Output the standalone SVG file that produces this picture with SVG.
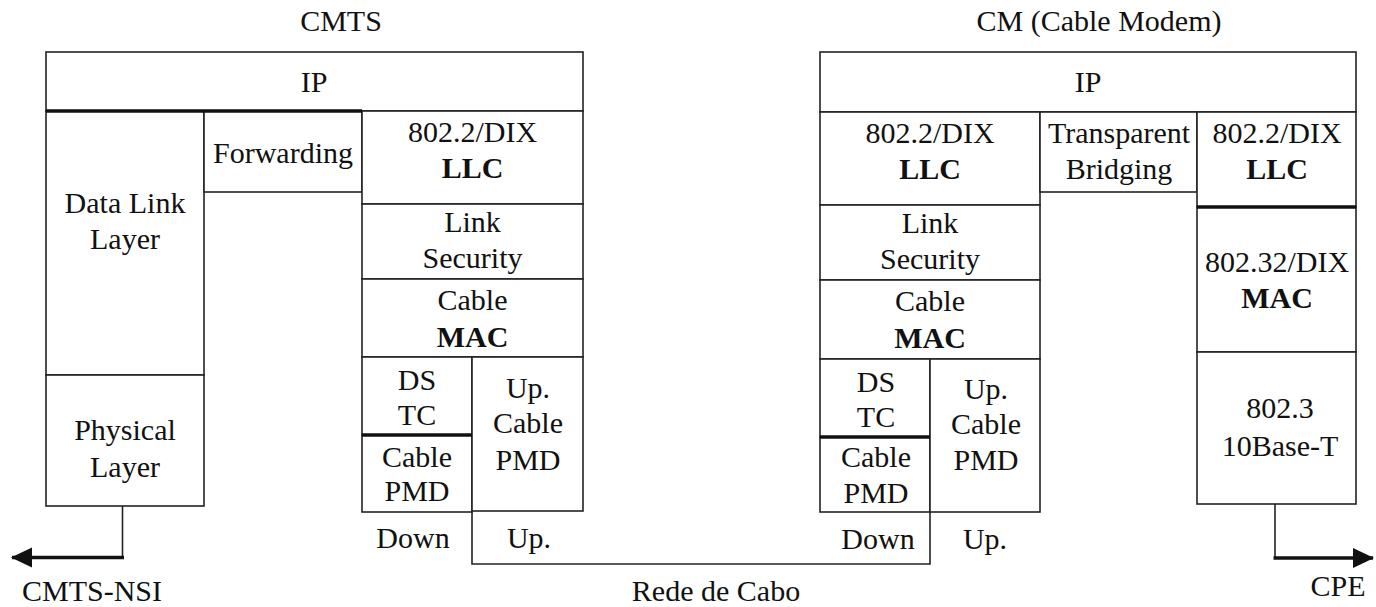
<svg xmlns="http://www.w3.org/2000/svg" width="1376" height="607" viewBox="0 0 1376 607">
<defs>
<style>
text{font-family:'Liberation Serif','Times New Roman',serif;font-size:30px;fill:#111;text-anchor:middle}
text.b{font-weight:bold}
rect{fill:#fff;stroke:#222;stroke-width:1.6}
.thick{stroke:#111;stroke-width:3.5;fill:none}
.ln{stroke:#222;stroke-width:1.6;fill:none}
</style>
<marker id="ah" markerWidth="22" markerHeight="22" refX="20" refY="10" orient="auto" markerUnits="userSpaceOnUse" viewBox="0 0 22 20">
<path d="M0,0 L21,10 L0,20 Z" fill="#111"/>
</marker>
</defs>
<rect x="0" y="0" width="1376" height="607" style="stroke:none"/>

<text x="341" y="31">CMTS</text>
<text x="1099" y="31">CM (Cable Modem)</text>

<g id="cmts-ip"><rect x="46" y="52" width="537" height="59"/><text x="314" y="92">IP</text></g>
<g id="cmts-dll"><rect x="46" y="111" width="158" height="264"/><text x="125" y="213">Data Link</text><text x="125" y="249">Layer</text></g>
<g id="cmts-phy"><rect x="46" y="375" width="158" height="131"/><text x="125" y="440">Physical</text><text x="125" y="477">Layer</text></g>
<g id="cmts-fwd"><rect x="204" y="111" width="158" height="81"/><text x="283" y="163">Forwarding</text></g>
<g id="cmts-llc"><rect x="362" y="111" width="221" height="93"/><text x="472.5" y="142">802.2/DIX</text><text class="b" x="472.5" y="178">LLC</text></g>
<g id="cmts-sec"><rect x="362" y="204" width="221" height="75"/><text x="472.5" y="232">Link</text><text x="472.5" y="268">Security</text></g>
<g id="cmts-mac"><rect x="362" y="279" width="221" height="78"/><text x="472.5" y="310">Cable</text><text class="b" x="472.5" y="347">MAC</text></g>
<g id="cmts-dstc"><rect x="362" y="357" width="110" height="78"/><text x="417" y="390">DS</text><text x="417" y="425">TC</text></g>
<g id="cmts-pmd"><rect x="362" y="435" width="110" height="77"/><text x="417" y="467">Cable</text><text x="417" y="501">PMD</text></g>
<g id="cmts-uppmd"><rect x="472" y="357" width="111" height="154"/><text x="528" y="398">Up.</text><text x="528" y="433">Cable</text><text x="528" y="470">PMD</text></g>
<g id="cmts-down"><text x="413" y="548">Down</text></g>
<g id="cmts-up"><text x="529" y="548">Up.</text></g>

<g id="cm-ip"><rect x="820" y="52" width="536" height="60"/><text x="1088" y="92">IP</text></g>
<g id="cm-llc1"><rect x="820" y="112" width="220" height="93"/><text x="930" y="143">802.2/DIX</text><text class="b" x="930" y="179">LLC</text></g>
<g id="cm-bridge"><rect x="1040" y="112" width="157" height="80"/><text x="1119" y="143">Transparent</text><text x="1119" y="179">Bridging</text></g>
<g id="cm-llc2"><rect x="1197" y="112" width="159" height="95"/><text x="1277" y="143">802.2/DIX</text><text class="b" x="1277" y="179">LLC</text></g>
<g id="cm-mac2"><rect x="1197" y="207" width="159" height="145"/><text x="1277" y="272">802.32/DIX</text><text class="b" x="1277" y="308">MAC</text></g>
<g id="cm-eth"><rect x="1197" y="352" width="159" height="152"/><text x="1280" y="418">802.3</text><text x="1280" y="456">10Base-T</text></g>
<g id="cm-sec"><rect x="820" y="205" width="220" height="75"/><text x="930" y="233">Link</text><text x="930" y="269">Security</text></g>
<g id="cm-mac"><rect x="820" y="280" width="220" height="79"/><text x="930" y="311">Cable</text><text class="b" x="930" y="348">MAC</text></g>
<g id="cm-dstc"><rect x="820" y="359" width="110" height="78"/><text x="876" y="392">DS</text><text x="876" y="427">TC</text></g>
<g id="cm-pmd"><rect x="820" y="437" width="110" height="75"/><text x="876" y="467">Cable</text><text x="876" y="503">PMD</text></g>
<g id="cm-uppmd"><rect x="930" y="359" width="110" height="153"/><text x="986" y="399">Up.</text><text x="986" y="434">Cable</text><text x="986" y="470">PMD</text></g>
<g id="cm-down"><text x="878" y="549">Down</text></g>
<g id="cm-up"><text x="985" y="549">Up.</text></g>

<text x="92" y="601">CMTS-NSI</text>
<text x="716" y="601">Rede de Cabo</text>
<text x="1338" y="596">CPE</text>

<g id="connectors">
<line class="thick" x1="46" y1="111" x2="362" y2="111"/>
<line class="thick" x1="362" y1="435" x2="472" y2="435"/>
<line class="thick" x1="820" y1="437" x2="930" y2="437"/>
<line class="thick" x1="1197" y1="207" x2="1356" y2="207"/>
<polyline class="ln" points="472,511 472,564 930,564 930,512"/>
<line class="ln" x1="122.5" y1="506" x2="122.5" y2="557.5"/>
<line class="thick" x1="124" y1="557.5" x2="12" y2="557.5" marker-end="url(#ah)"/>
<line class="ln" x1="1275" y1="504" x2="1275" y2="558"/>
<line class="thick" x1="1273.5" y1="558" x2="1373" y2="558" marker-end="url(#ah)"/>
</g>
</svg>
